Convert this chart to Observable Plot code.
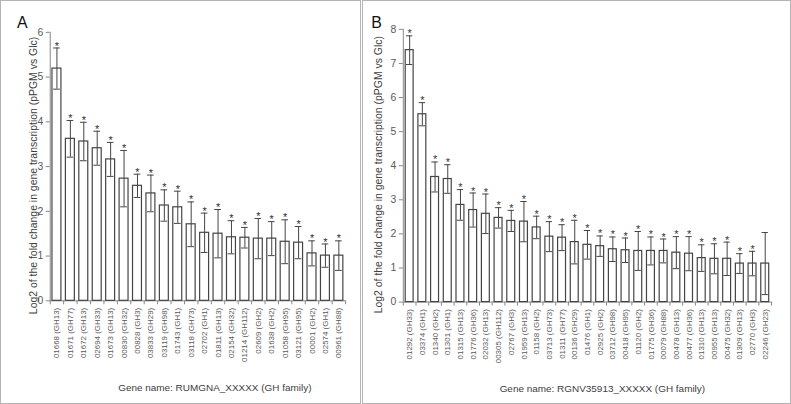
<!DOCTYPE html>
<html><head><meta charset="utf-8">
<script src="https://cdn.jsdelivr.net/npm/d3@7"></script>
<script src="https://cdn.jsdelivr.net/npm/@observablehq/plot@0.6"></script>
<style>
body{margin:0;background:#fff;}
#wrap{position:relative;width:791px;height:404px;overflow:hidden;font-family:"Liberation Sans",Arial,sans-serif;}
.panel{position:absolute;top:0;height:404px;box-sizing:border-box;border:1px solid #b4b4b4;}
#pa{left:0;width:361px;}
#pb{left:362px;width:429px;}
.panel svg{position:absolute;left:-1px;top:-1px;}
</style></head><body>
<div id="wrap"><div class="panel" id="pa"></div><div class="panel" id="pb"></div></div>
<script>
const yLabel = "Log2 of the fold change in gene transcription (pPGM vs Glc)";

const genesA = ["01668 (GH13)","01671 (GH77)","01672 (GH13)","02694 (GH33)","01673 (GH13)","00830 (GH32)","00828 (GH3)","03833 (GH29)","03119 (GH98)","01743 (GH1)","03118 (GH73)","02702 (GH1)","01811 (GH13)","02154 (GH32)","01214 (GH112)","02609 (GH2)","01638 (GH2)","01058 (GH95)","03121 (GH95)","00001 (GH2)","02574 (GH1)","00961 (GH88)"];
const valuesA = [5.19,3.62,3.56,3.41,3.16,2.73,2.57,2.40,2.13,2.09,1.71,1.52,1.50,1.42,1.41,1.39,1.39,1.32,1.30,1.06,1.01,1.01];
const errorsA = [0.46,0.41,0.43,0.38,0.38,0.63,0.26,0.41,0.35,0.36,0.50,0.44,0.54,0.37,0.23,0.45,0.38,0.49,0.36,0.28,0.26,0.33];
const sigA = [1,1,1,1,1,1,1,1,1,1,1,1,1,1,1,1,1,1,1,1,1,1];
const ticksA = [0,1,2,3,4,5,6];
const titleA = "Gene name: RUMGNA_XXXXX (GH family)";

const genesB = ["01292 (GH33)","03374 (GH1)","01340 (GH2)","01301 (GH1)","01315 (GH13)","01776 (GH36)","02032 (GH13)","00305 (GH112)","02767 (GH3)","01959 (GH13)","01158 (GH2)","03713 (GH73)","01311 (GH77)","00136 (GH29)","01476 (GH1)","02925 (GH2)","03712 (GH98)","00418 (GH95)","01120 (GH2)","01775 (GH36)","00079 (GH88)","00478 (GH13)","00477 (GH36)","01310 (GH13)","00955 (GH13)","00475 (GH32)","01309 (GH13)","02770 (GH3)","02246 (GH23)"];
const valuesB = [7.39,5.51,3.67,3.61,2.85,2.70,2.59,2.47,2.38,2.36,2.19,1.92,1.89,1.76,1.68,1.64,1.55,1.52,1.50,1.50,1.50,1.45,1.42,1.29,1.27,1.27,1.13,1.13,1.13];
const errorsB = [0.42,0.34,0.44,0.42,0.45,0.50,0.58,0.30,0.31,0.59,0.33,0.44,0.38,0.64,0.42,0.30,0.36,0.36,0.57,0.41,0.35,0.47,0.50,0.39,0.44,0.49,0.29,0.36,0.91];
const sigB = [1,1,1,1,1,1,1,1,1,1,1,1,1,1,1,1,1,1,1,1,1,1,1,1,1,1,1,1,0];
const ticksB = [0,1,2,3,4,5,6,7,8];
const titleB = "Gene name: RGNV35913_XXXXX (GH family)";

const AXIS = "#868686", INK = "#444444", TXT = "#595959";

function panel(o) {
  const data = o.genes.map((g, i) => ({g, i, v: o.values[i], e: o.errors[i], s: o.sig[i]}));
  const n = o.genes.length;
  return Plot.plot({
    width: o.width, height: 404,
    marginLeft: o.mL, marginRight: o.mR, marginTop: o.mT, marginBottom: o.mB,
    x: {domain: [0, n], axis: null},
    y: {domain: [0, o.ticks[o.ticks.length - 1]], axis: null},
    style: {fontFamily: '"Liberation Sans", Arial, sans-serif', color: TXT, background: "transparent"},
    marks: [
      Plot.axisY({ticks: o.ticks, tickFormat: d3.format("d"), label: null, tickSize: 4, tickPadding: 3, fontSize: 10.5, stroke: AXIS, fill: TXT}),
      Plot.axisX({ticks: d3.range(n + 1), tickSize: 4, tickFormat: () => "", label: null, stroke: AXIS}),
      Plot.ruleX([0], {stroke: AXIS}),
      Plot.ruleY([0], {stroke: AXIS}),
      Plot.rectY(data, {x1: d => d.i, x2: d => d.i + 1, y: "v", insetLeft: o.inset, insetRight: o.inset, fill: "white", stroke: INK, strokeWidth: 1.2}),
      Plot.ruleX(data, {x: d => d.i + 0.5, y1: d => d.v - d.e, y2: d => d.v + d.e, stroke: INK, strokeWidth: 1}),
      Plot.ruleY(data, {y: d => d.v + d.e, x1: d => d.i + 0.25, x2: d => d.i + 0.75, stroke: INK, strokeWidth: 1}),
      Plot.ruleY(data, {y: d => d.v - d.e, x1: d => d.i + 0.25, x2: d => d.i + 0.75, stroke: INK, strokeWidth: 1}),
      Plot.text(data.filter(d => d.s), {x: d => d.i + 0.5, y: d => d.v + d.e, text: () => "*", dy: -2, fontSize: 11, fill: "#333"}),
      Plot.text(data, {x: d => d.i + 0.5, y: () => 0, text: "g", rotate: -90, textAnchor: "end", dy: 7, fontSize: 8, fill: TXT}),
      Plot.text([yLabel], {frameAnchor: "left", textAnchor: "middle", lineAnchor: "middle", rotate: -90, dx: o.ylDx, dy: 9, fontSize: 10.5, fill: "#404040"}),
      Plot.text([o.title], {frameAnchor: "bottom", textAnchor: "middle", lineAnchor: "middle", dx: o.tDx, dy: 87, fontSize: 10, fill: "#404040"}),
      Plot.text([o.letter], {frameAnchor: "top-left", textAnchor: "middle", lineAnchor: "middle", dx: o.lDx, dy: o.lDy, fontSize: 16, fill: "#111"})
    ]
  });
}

document.getElementById("pa").appendChild(panel({
  genes: genesA, values: valuesA, errors: errorsA, sig: sigA, ticks: ticksA, title: titleA, letter: "A",
  width: 361, mL: 50, mR: 14, mT: 32, mB: 102, inset: 2.25, ylDx: -17, tDx: 17, lDx: -28, lDy: -9
}));
document.getElementById("pb").appendChild(panel({
  genes: genesB, values: valuesB, errors: errorsB, sig: sigB, ticks: ticksB, title: titleB, letter: "B",
  width: 429, mL: 41, mR: 18, mT: 29, mB: 101, inset: 2.4, ylDx: -25, tDx: 15, lDx: -27, lDy: -7
}));
</script>
</body></html>
